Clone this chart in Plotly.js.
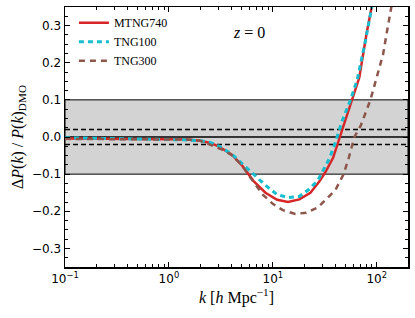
<!DOCTYPE html>
<html>
<head>
<meta charset="utf-8">
<script src="https://cdn.plot.ly/plotly-3.0.1.min.js"></script>
<style>html,body{margin:0;padding:0;background:#fff;}#chart{width:415px;height:318px;}</style>
</head>
<body>
<div id="chart"></div>
<script>
// k grid [h/Mpc] and ΔP/P_DMO values
const kMTNG = [0.1, 0.2, 0.4, 0.7, 1.0, 1.5, 2.0, 2.5, 3.0, 4.0, 5.0, 6.5, 8.5, 11, 14, 18, 23, 28, 32, 38, 44, 50, 58, 68, 80, 90, 100];
const dMTNG = [-0.004, -0.004, -0.005, -0.005, -0.006, -0.007, -0.010, -0.016, -0.025, -0.047, -0.075, -0.118, -0.150, -0.169, -0.175, -0.168, -0.150, -0.120, -0.095, -0.056, 0.0, 0.045, 0.10, 0.16, 0.28, 0.35, 0.42];

const kTNG100 = [0.1, 0.2, 0.4, 0.7, 1.0, 1.5, 2.0, 2.5, 3.0, 4.0, 5.0, 6.5, 8.5, 11, 14, 18, 22, 27, 31, 35, 40, 46, 56, 65, 78, 90, 100];
const dTNG100 = [-0.002, -0.003, -0.004, -0.005, -0.007, -0.008, -0.010, -0.015, -0.024, -0.045, -0.070, -0.098, -0.130, -0.155, -0.163, -0.160, -0.142, -0.118, -0.088, -0.058, -0.015, 0.04, 0.10, 0.155, 0.26, 0.355, 0.42];

const kTNG300 = [0.1, 0.2, 0.4, 0.7, 1.0, 1.5, 2.0, 2.5, 3.2, 4.0, 5.0, 6.0, 8.0, 10, 12.5, 16.5, 21, 27, 33, 40, 48, 54, 61, 70, 87, 100, 115, 125, 140, 160];
const dTNG300 = [-0.005, -0.005, -0.005, -0.006, -0.006, -0.007, -0.010, -0.020, -0.033, -0.048, -0.075, -0.107, -0.155, -0.180, -0.197, -0.207, -0.204, -0.190, -0.167, -0.143, -0.100, -0.055, 0.0, 0.03, 0.10, 0.16, 0.222, 0.281, 0.36, 0.45];

const names = ['MTNG740', 'TNG100', 'TNG300'];
const band = [-0.1, 0.1];
const inner = [-0.02, 0.02];
const yTickVals = [-0.3, -0.2, -0.1, 0.0, 0.1, 0.2, 0.3];
const xTickVals = [0.1, 1, 10, 100];
const xTickText = ['10<sup>−1</sup>', '10<sup>0</sup>', '10<sup>1</sup>', '10<sup>2</sup>'];

const serif = '"Liberation Serif", "DejaVu Serif", serif';
const sans = '"DejaVu Sans", sans-serif';

const traces = [
  {x: kMTNG, y: dMTNG, name: names[0], mode: 'lines', line: {color: '#d62728', width: 2.5}},
  {x: kTNG100, y: dTNG100, name: names[1], mode: 'lines', line: {color: '#17becf', width: 3, dash: '5px,4px'}},
  {x: kTNG300, y: dTNG300, name: names[2], mode: 'lines', line: {color: '#8c564b', width: 2.5, dash: '6px,5px'}}
];

const layout = {
  width: 415, height: 318,
  margin: {l: 65, r: 7, t: 7, b: 51},
  paper_bgcolor: '#fff', plot_bgcolor: '#fff',
  showlegend: true,
  legend: {x: 0.026, y: 0.995, xanchor: 'left', yanchor: 'top', bgcolor: 'rgba(0,0,0,0)',
           font: {family: serif, size: 12, color: '#000'}, tracegroupgap: 0},
  xaxis: {
    type: 'log', range: [-1, Math.log10(200)], tickvals: xTickVals, ticktext: xTickText,
    showgrid: false, zeroline: false,
    ticks: 'inside', ticklen: 5, tickwidth: 1, tickcolor: '#000',
    showline: true, linecolor: '#000', linewidth: 1.5, mirror: 'allticks',
    minor: {ticks: 'inside', ticklen: 3, tickwidth: 1, tickcolor: '#000', dtick: 'D1', showgrid: false},
    tickfont: {family: sans, size: 12, color: '#000'},
    title: {text: '<i>k</i> [<i>h</i> Mpc<sup>−1</sup>]', font: {family: serif, size: 16, color: '#000'}, standoff: 6}
  },
  yaxis: {
    range: [-0.35, 0.35], tickvals: yTickVals, tickformat: '.1f',
    showgrid: false, zeroline: false,
    ticks: 'inside', ticklen: 5, tickwidth: 1, tickcolor: '#000',
    showline: true, linecolor: '#000', linewidth: 1.5, mirror: 'allticks',
    minor: {ticks: 'inside', ticklen: 3, tickwidth: 1, tickcolor: '#000', dtick: 0.025, showgrid: false},
    tickfont: {family: sans, size: 12, color: '#000'},
    title: {text: 'Δ<i>P</i>(<i>k</i>) / <i>P</i>(<i>k</i>)<sub>DMO</sub>', font: {family: serif, size: 16, color: '#000'}, standoff: 4}
  },
  shapes: [
    {type: 'rect', xref: 'paper', x0: 0, x1: 1, yref: 'y', y0: band[0], y1: band[1],
     fillcolor: '#d3d3d3', line: {color: '#000', width: 1}, layer: 'below'},
    {type: 'line', xref: 'paper', x0: 0, x1: 1, yref: 'y', y0: 0, y1: 0,
     line: {color: '#000', width: 1.5}, layer: 'below'},
    {type: 'line', xref: 'paper', x0: 0, x1: 1, yref: 'y', y0: inner[0], y1: inner[0],
     line: {color: '#000', width: 1.5, dash: '5px,3px'}, layer: 'below'},
    {type: 'line', xref: 'paper', x0: 0, x1: 1, yref: 'y', y0: inner[1], y1: inner[1],
     line: {color: '#000', width: 1.5, dash: '5px,3px'}, layer: 'below'}
  ],
  annotations: [
    {text: '<i>z</i> = 0', xref: 'paper', yref: 'paper', x: 0.535, y: 0.9, xanchor: 'center', yanchor: 'middle',
     showarrow: false, font: {family: serif, size: 16, color: '#000'}}
  ]
};

Plotly.newPlot('chart', traces, layout, {displayModeBar: false, staticPlot: true});
</script>
</body>
</html>
